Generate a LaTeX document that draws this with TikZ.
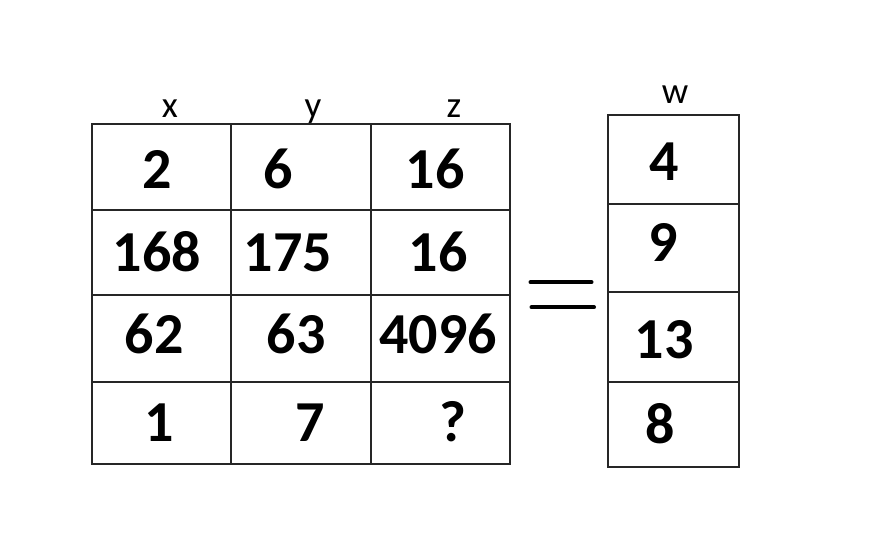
\documentclass[tikz,border=0pt]{standalone}
\usepackage{fontspec}
\setmainfont{Carlito}
\begin{document}
\begin{tikzpicture}[x=1pt,y=-1pt,
  grid/.style={line width=2.2pt, draw=black!85},
  num/.style={anchor=base, inner sep=0pt, font=\fontsize{58}{60}\selectfont\bfseries},
  lab/.style={anchor=base, inner sep=0pt, font=\fontsize{37}{40}\selectfont},
  eqline/.style={line width=4pt, line cap=round}]
\useasboundingbox (0,0) rectangle (874,551);
% left table
\draw[grid] (91.7,124.3) rectangle (510,464.3);
\draw[grid] (230.7,124.3) -- (230.7,464.3);
\draw[grid] (370.7,124.3) -- (370.7,464.3);
\draw[grid] (91.7,210) -- (510,210);
\draw[grid] (91.7,295) -- (510,295);
\draw[grid] (91.7,381.7) -- (510,381.7);
% right table
\draw[grid] (608.3,115) rectangle (739,467.3);
\draw[grid] (608.3,204.3) -- (739,204.3);
\draw[grid] (608.3,292.3) -- (739,292.3);
\draw[grid] (608.3,382.3) -- (739,382.3);
% labels
\node[lab] (lx) at (170,117) {x};
\node[lab] (ly) at (313,117) {y};
\node[lab] (lz) at (454,117) {z};
\node[lab] (lw) at (675,103) {w};
% numbers
\node[num] (a11) at (156.7,188.3) {2};
\node[num] (a12) at (278,188.3) {6};
\node[num] (a13) at (435,188.3) {16};
\node[num] (a21) at (156.7,271.7) {168};
\node[num] (a22) at (288,271.7) {175};
\node[num] (a23) at (438,271.7) {16};
\node[num] (a31) at (154,353.3) {62};
\node[num] (a32) at (296,353.3) {63};
\node[num] (a33) at (438,353.3) {4096};
\node[num] (a41) at (159,441.7) {1};
\node[num] (a42) at (310,441.7) {7};
\node[num] (a43) at (452.7,441.7) {?};
\node[num] (w1) at (664,180.5) {4};
\node[num] (w2) at (663,261.7) {9};
\node[num] (w3) at (664,358.3) {13};
\node[num] (w4) at (660,443.3) {8};
% equals sign
\coordinate (e1a) at (530.5,282.3);
\coordinate (e1b) at (591.5,282.3);
\coordinate (e2a) at (531.5,307.3);
\coordinate (e2b) at (594,307.3);
\draw[eqline] (e1a) -- (e1b);
\draw[eqline] (e2a) -- (e2b);
\end{tikzpicture}
\end{document}
